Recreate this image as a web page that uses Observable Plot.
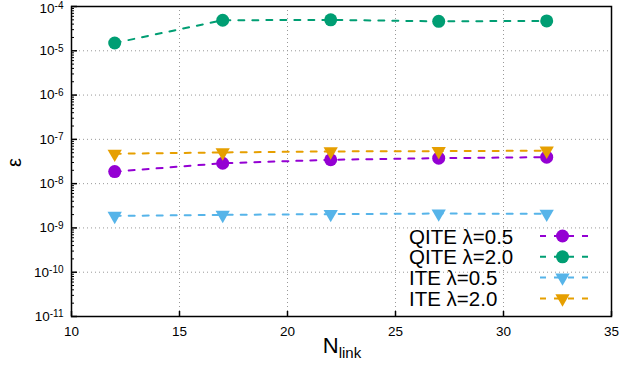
<!DOCTYPE html>
<html>
<head>
<meta charset="utf-8">
<script src="https://cdn.jsdelivr.net/npm/d3@7"></script>
<script src="https://cdn.jsdelivr.net/npm/@observablehq/plot@0.6"></script>
<style>
  html, body { margin: 0; padding: 0; background: white; }
  #chart { width: 621px; height: 374px; }
</style>
</head>
<body>
<div id="chart"></div>
<script>
// ---- data ----
const nLink = [12, 17, 22, 27, 32];
const qiteLam05 = [1.87e-8, 2.89e-8, 3.46e-8, 3.76e-8, 3.96e-8];
const qiteLam20 = [1.50e-5, 4.89e-5, 4.99e-5, 4.63e-5, 4.73e-5];
const iteLam05  = [1.87e-9, 1.97e-9, 2.05e-9, 2.11e-9, 2.08e-9];
const iteLam20  = [4.73e-8, 5.07e-8, 5.34e-8, 5.42e-8, 5.54e-8];

const seriesNames = ["QITE λ=0.5", "QITE λ=2.0", "ITE λ=0.5", "ITE λ=2.0"];
const seriesValues = [qiteLam05, qiteLam20, iteLam05, iteLam20];
const seriesColors = ["#9400d3", "#009e73", "#56b4e9", "#e69f00"];
const seriesSymbols = ["circle", "circle", "triangle", "triangle"];

const xTicks = [10, 15, 20, 25, 30, 35];
const yExponents = [-11, -10, -9, -8, -7, -6, -5, -4];
const yTicks = yExponents.map(e => Math.pow(10, e));
const yMinor = [];
for (const e of yExponents.slice(0, -1)) for (let m = 2; m <= 9; m++) yMinor.push(m * Math.pow(10, e));

const xLabelMain = "N";
const xLabelSub = "link";
const yLabel = "ε";

// ---- build table ----
const seriesRows = seriesNames.map((name, i) =>
  nLink.map((x, j) => ({x, y: seriesValues[i][j], series: name}))
);

const seriesMarks = [];
seriesNames.forEach((name, i) => {
  seriesMarks.push(Plot.line(seriesRows[i], {
    x: "x", y: "y", stroke: seriesColors[i], strokeWidth: 2, strokeDasharray: "6,8"
  }));
  seriesMarks.push(Plot.dot(seriesRows[i], {
    x: "x", y: "y", fill: seriesColors[i], stroke: "none",
    symbol: seriesSymbols[i],
    r: seriesSymbols[i] === "circle" ? 6.5 : 5.3,
    rotate: seriesSymbols[i] === "triangle" ? 180 : 0
  }));
});

// legend & axis titles drawn with a custom render mark
function annotations(index, scales, values, dim) {
  const g = d3.create("svg:g");
  const left = dim.marginLeft, right = dim.width - dim.marginRight;
  const bottom = dim.height - dim.marginBottom, top = dim.marginTop;
  // x title
  const xt = g.append("text")
    .attr("x", (left + right) / 2 + 1).attr("y", bottom + 37)
    .attr("text-anchor", "middle").attr("fill", "black")
    .style("font-size", "22px");
  xt.append("tspan").text(xLabelMain);
  xt.append("tspan").attr("dy", 5).style("font-size", "15px").text(xLabelSub);
  // y title
  g.append("text")
    .attr("transform", `translate(${left - 57},${(top + bottom) / 2 + 1.5}) rotate(-90)`)
    .attr("text-anchor", "middle").attr("dy", "0.35em").attr("fill", "black")
    .style("font-size", "20px").text(yLabel);
  // legend
  const rowStep = 20.8;
  seriesNames.forEach((name, i) => {
    const base = bottom - 72.5 + i * rowStep;
    const cy = base - 7.5;
    g.append("text").attr("x", right - 202).attr("y", base)
      .attr("text-anchor", "start").attr("fill", "black")
      .style("font-size", "20.5px").text(name);
    g.append("line").attr("x1", right - 74).attr("x2", right - 23)
      .attr("y1", cy).attr("y2", cy)
      .attr("stroke", seriesColors[i]).attr("stroke-width", 2)
      .attr("stroke-dasharray", "6,8").attr("stroke-dashoffset", -3);
    const cx = right - 48.5;
    if (seriesSymbols[i] === "circle") {
      g.append("circle").attr("cx", cx).attr("cy", cy).attr("r", 6.5).attr("fill", seriesColors[i]);
    } else {
      g.append("path")
        .attr("d", d3.symbol(d3.symbolTriangle, Math.PI * 5.3 * 5.3)())
        .attr("transform", `translate(${cx},${cy}) rotate(180)`)
        .attr("fill", seriesColors[i]);
    }
  });
  return g.node();
}

const chart = Plot.plot({
  width: 621,
  height: 374,
  marginLeft: 71,
  marginRight: 10,
  marginTop: 6,
  marginBottom: 58,
  style: {fontFamily: "'Liberation Sans', Arial, Helvetica, sans-serif", fontSize: "13.5px", background: "white", color: "black"},
  x: {domain: [10, 35]},
  y: {type: "log", domain: [1e-11, 1e-4]},
  marks: [
    Plot.gridX(xTicks.slice(1, -1), {stroke: "#999", strokeOpacity: 1, strokeWidth: 1, strokeDasharray: "1,3"}),
    Plot.gridY(yTicks.slice(1, -1), {stroke: "#999", strokeOpacity: 1, strokeWidth: 1, strokeDasharray: "1,3"}),
    Plot.axisX(xTicks, {anchor: "bottom", tickSize: -5, tickPadding: 15, label: null, strokeWidth: 1.5}),
    Plot.axisY(yTicks, {anchor: "left", tickSize: -6, tickPadding: 14, label: null, strokeWidth: 1.5,
      tickFormat: d => String(Math.round(Math.log10(d)))}),
    Plot.axisY(yMinor, {anchor: "left", tickSize: -3, fill: "none", label: null, strokeWidth: 1}),
    Plot.frame({stroke: "black", strokeWidth: 1.5}),
    ...seriesMarks,
    annotations
  ]
});

// superscript exponents on the y tick labels
d3.select(chart).selectAll('g[aria-label="y-axis tick label"] text').each(function() {
  const t = d3.select(this);
  const e = t.text();
  t.text("");
  // the top label sits at the SVG's edge: nudge it down slightly so it is not clipped
  const first = t.append("tspan").text("10");
  if (e === "-4") first.attr("dy", 2);
  t.append("tspan").attr("dy", "-0.36em").style("font-size", "10px").text(e);
});

document.getElementById("chart").appendChild(chart);
</script>
</body>
</html>
